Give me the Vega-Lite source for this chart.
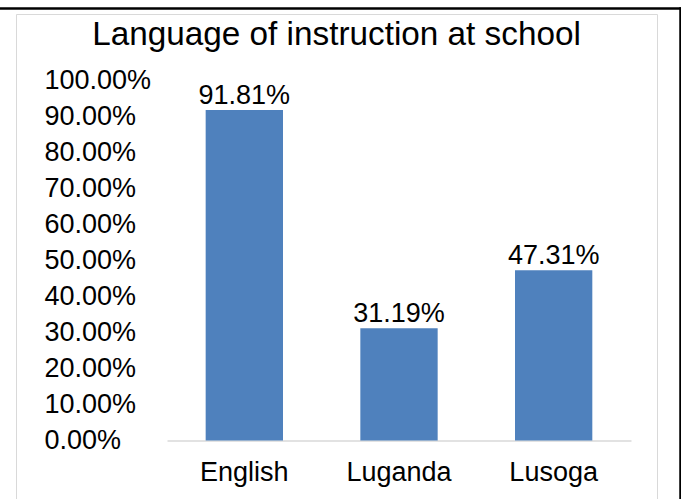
{
  "$schema": "https://vega.github.io/schema/vega-lite/v6.json",
  "width": 641,
  "height": 490,
  "autosize": {"type": "none"},
  "padding": {"left": 16, "top": 14, "right": 24, "bottom": 0},
  "background": "white",
  "config": {
    "view": {"stroke": "#D9D9D9", "strokeWidth": 1},
    "font": "Liberation Sans"
  },
  "title": {
    "text": "Language of instruction at school",
    "fontSize": 33.3,
    "font": "Liberation Sans",
    "fontWeight": "normal",
    "color": "#000000",
    "anchor": "middle",
    "frame": "group",
    "offset": -44
  },
  "layer": [
    {
      "data": {
        "values": [
          {"language": "English", "share": 0.9181},
          {"language": "Luganda", "share": 0.3119},
          {"language": "Lusoga", "share": 0.4731}
        ]
      },
      "encoding": {
        "x": {
          "field": "language",
          "type": "nominal",
          "sort": null,
          "scale": {"range": [151, 615], "paddingInner": 0.5, "paddingOuter": 0.25},
          "axis": {
            "orient": "bottom",
            "offset": -63.5,
            "title": null,
            "labelAngle": 0,
            "labelFontSize": 27,
            "labelFont": "Liberation Sans",
            "labelColor": "#000000",
            "labelPadding": 19,
            "ticks": false,
            "tickSize": 0,
            "grid": false,
            "domainColor": "#D9D9D9",
            "domainWidth": 1.5
          }
        },
        "y": {
          "field": "share",
          "type": "quantitative",
          "scale": {"domain": [0, 1], "range": [426.5, 66.5], "nice": false, "zero": true},
          "axis": {
            "orient": "left",
            "offset": -28,
            "values": [0, 0.1, 0.2, 0.3, 0.4, 0.5, 0.6, 0.7, 0.8, 0.9, 1],
            "format": ".2%",
            "title": null,
            "domain": false,
            "grid": false,
            "ticks": false,
            "tickSize": 0,
            "labelPadding": 0,
            "labelAlign": "left",
            "labelFontSize": 27,
            "labelFont": "Liberation Sans",
            "labelColor": "#000000",
            "labelOverlap": false,
            "labelBound": false,
            "labelFlush": false
          }
        }
      },
      "layer": [
        {"mark": {"type": "bar", "color": "#4F81BD"}},
        {
          "mark": {"type": "text", "dy": -6, "baseline": "alphabetic", "fontSize": 27, "font": "Liberation Sans", "color": "#000000"},
          "encoding": {"text": {"field": "share", "type": "quantitative", "format": ".2%"}}
        }
      ]
    },
    {
      "data": {"values": [{"bx": 0, "by": 0}]},
      "mark": {"type": "point", "opacity": 0},
      "encoding": {
        "x": {
          "field": "bx",
          "type": "quantitative",
          "scale": {"domain": [0, 1], "range": [-17, 665], "nice": false, "zero": false},
          "axis": {"orient": "top", "offset": 6, "title": null, "labels": false, "ticks": false, "grid": false, "domainColor": "#000000", "domainWidth": 2.5}
        },
        "y": {
          "field": "by",
          "type": "quantitative",
          "scale": {"domain": [0, 1], "range": [490, -7.25], "nice": false, "zero": false},
          "axis": {"orient": "right", "offset": 23, "title": null, "labels": false, "ticks": false, "grid": false, "domainColor": "#000000", "domainWidth": 2.5}
        }
      }
    }
  ],
  "resolve": {"scale": {"x": "independent", "y": "independent"}, "axis": {"x": "independent", "y": "independent"}}
}
